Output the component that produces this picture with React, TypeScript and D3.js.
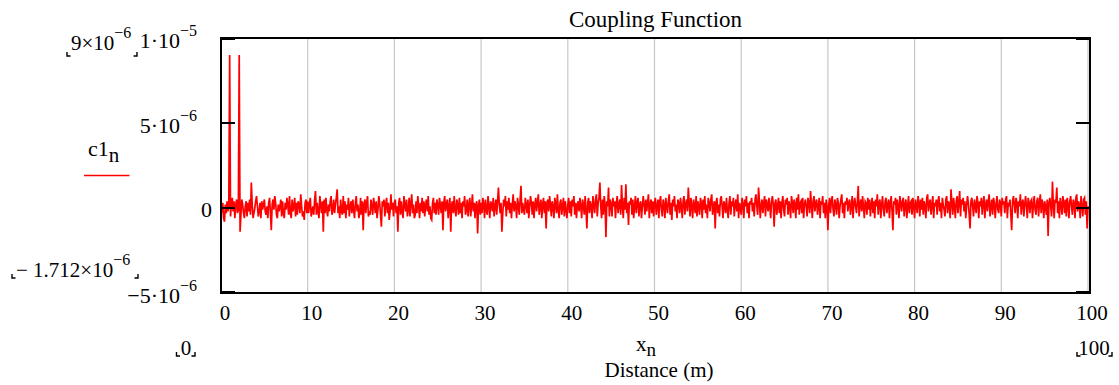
import React from 'react';
import * as d3 from 'd3';

// Sampling step of the distance grid (m)
const STEP = 0.1;
// Coupling function values c1_n, in units of 1e-7
const c1Values: number[] = [
  -4, -1, 3, -6, -8, 2, -3, 4, -2, 1, 90, -5, 3, 6, -2, 4, -6, 2, 5, -3, -1, 90, -14, -4, 5,
  2, -3, -6, 1, 4, -5, 3, -2, 5, -4, 15, 2, -6, -3, 0, 4, 7, 1, -5, -2, 3, -6, 4, -1, 2,
  5, -2, -4, 1, -6, 3, 6, -3, -13, 2, 5, -1, 7, 3, -4, -6, 2, -2, 1, 5, -5, 4, -3, -6, 3,
  -1, 6, 2, -4, 7, -3, -6, 5, -2, 1, 6, -5, 3, -4, 4, 2, -3, 8, 1, -5, -2, -7, 3, 5, -3,
  4, -3, 2, 6, -5, -2, 1, -4, 5, 10, -4, 3, -2, -6, 7, 2, -3, 4, -14, 5, -3, 6, -1, -5, 2,
  -2, 4, 7, -4, -1, 5, -3, 2, 6, 11, -3, 1, -6, 5, -2, -4, 7, -3, 4, -6, 2, -1, 6, -5, 1,
  4, -3, 5, -1, -6, 3, 7, -2, 2, -6, -3, 6, -4, 4, -13, 2, 5, -3, 3, 7, -5, -2, -4, 5, 1,
  -4, 6, 2, -3, 4, -6, -1, 7, 3, -4, -11, 4, 1, 5, -5, 2, 6, -3, 3, -7, -2, 8, -1, 3, -5,
  3, 5, -3, 1, -14, 3, 6, -4, 4, -2, -6, 7, 2, -2, 5, -5, -1, 6, -5, 3, 8, -3, 2, -6, -4,
  4, -3, 7, 1, -6, 3, -2, 6, -3, 4, -5, 2, 5, -2, 7, -4, 1, -6, -7, 3, 6, -3, 3, -4, 5,
  2, -4, 6, 2, -3, 4, -13, 3, 7, -2, 2, 5, -6, 1, 6, -14, 2, 4, -3, 7, -1, -5, 5, 2, -4,
  6, -3, 3, -6, 4, 1, 7, -4, -1, 5, -5, 2, 6, -5, 1, 8, -2, 3, -6, 2, 4, -15, 1, 5, -4,
  3, -3, 6, 2, -6, 5, -1, -4, 7, 1, -6, 4, 2, -2, 6, -5, 1, 5, -4, 4, 12, 2, -3, 3, -14,
  -3, 5, 1, 7, -5, 4, -1, 6, -3, 3, -6, 2, 8, -2, 4, 1, -6, 6, 2, -4, 5, 13, -3, 3, -1,
  -4, 6, 2, -3, 5, -6, 1, 7, 3, -4, 4, -6, 2, 6, -2, 3, 8, -4, 1, 5, -6, 2, 6, -3, 4,
  -12, 3, 5, -2, 7, 2, -5, 4, 1, -6, 6, 2, -3, 8, -1, -6, 3, 5, -4, 1, 6, -5, 4, -1, -6,
  2, 6, -3, 4, -5, 5, 1, 7, -4, 3, -6, 2, 4, -2, 6, 1, -6, 5, 2, -4, 7, -1, -12, 3, 6,
  -3, 4, 1, -6, 7, 2, -3, 5, 8, -5, 3, 6, 15, 1, -6, 5, -4, 7, 2, -17.12, 4, 1, 12, -5, 5,
  2, -5, 6, 1, 4, -6, 3, 7, -3, 2, 5, -4, 13.5, 1, -6, 6, -1, 14, -3, 3, -10, 4, 2, 6, -4,
  5, -6, 1, 7, -3, 3, 6, -5, 2, 4, -6, 1, 7, 2, -4, 5, -2, 3, 8, -6, 2, 5, -3, 4, -5,
  3, 6, -4, 1, 5, -6, 4, 7, -1, -5, 5, 2, -6, 6, 1, -3, 4, 8, -4, 3, -7, 5, 1, 7, -2,
  2, -6, 5, 3, -3, 6, 1, -6, 4, 7, -4, 2, 5, -2, 12, 3, -5, 6, 1, -6, 5, 2, -3, 7, -5,
  4, 1, -4, 6, 3, -6, 5, -1, 7, -3, 2, -6, 6, 3, -2, 5, 8, -4, 1, 4, -12, 3, 6, -3, 2,
  -5, 5, 7, 1, -6, 4, 2, -3, 6, -1, -6, 3, 7, -4, 4, 1, 6, -5, 2, 5, -2, 8, -6, 3, 1,
  -4, 6, 2, -6, 5, 1, 7, -3, 3, -6, 4, 2, 6, -2, 3, -5, 5, 8, 1, -4, 12, 4, -6, 2, 5,
  -3, 3, 7, -5, 5, 2, -2, 6, 1, -6, 4, 7, 2, -11, 3, 5, -4, 1, 6, -3, 4, -6, 3, 7, -1,
  -5, 5, 2, 6, -4, 4, 1, -6, 7, 3, -3, 5, 2, -6, 6, -1, 8, -4, 3, 4, -3, 6, -6, 2, 5,
  1, -5, 6, 3, -3, 10, 2, -6, 4, 7, -2, 3, 5, -4, 1, 6, -6, 4, 2, 7, -3, 3, -6, 5, 1,
  -13, 2, 6, -3, 4, 7, -1, -5, 5, 2, -4, 6, 3, -6, 1, 5, 8, -3, 3, -6, 4, 2, 6, -2, 3,
  5, -4, 1, 7, -6, 3, 6, 1, -3, 4, 13, -5, 2, 5, -2, 7, 1, -6, 4, 3, -4, 6, -1, 5, -5,
  2, 6, -3, 4, -6, 5, 1, 8, -4, 3, 5, -6, 2, 7, -1, -5, 4, 6, -3, 2, 5, -6, 3, 7, -2,
  -13, 4, 2, 6, -4, 5, 1, -6, 7, 3, -2, 4, 6, -5, 2, 5, -6, 1, 7, -3, 3, 4, -4, 6, 1,
  -6, 5, 2, -3, 7, 3, -5, 5, -1, 6, -4, 4, 1, -6, 6, 8, -2, 3, 5, -4, 2, 7, -6, 3, 1,
  5, -4, 4, 7, -2, 3, -6, 6, 2, -1, -5, 5, 7, -3, 4, 2, -6, 11, 3, -4, 6, 1, -6, 4, 7,
  -3, 3, 10, -5, 5, 2, 6, -2, 4, -6, 1, 7, 3, -4, -12, 4, 6, 1, -5, 5, 2, -3, 7, 3, -6,
  4, 1, 6, -4, 3, 7, -6, 2, 5, -2, 4, 8, -5, 1, 5, -4, 6, 3, -6, 2, 7, -1, -3, 5, 3,
  -5, 6, 2, 4, -3, 5, 7, -6, 3, 1, 5, -4, -13, 4, 7, 2, -3, 6, 3, -6, 4, 1, 8, -4, 3,
  5, -5, 2, 7, 1, -6, 6, 3, -3, 4, 5, -6, 2, 7, -1, -4, 4, 6, -5, 3, 8, -3, 5, 2, -6,
  4, 1, -4, 5, -16.5, 3, 6, 1, -5, 15.5, 2, -6, 5, 3, 12, -3, 4, -6, 6, 2, -4, 7, 3, -3, 5,
  -5, 6, 2, -6, 4, 7, 1, -4, 5, 3, -6, 6, 8, -2, 4, 2, -6, 7, 1, -5, 5, 6, -4, 4, -12,
  1,
];
const UNIT = 1e-7;

const xTicks = [0, 10, 20, 30, 40, 50, 60, 70, 80, 90, 100];
const yTicks = [-5e-6, 0, 5e-6, 1e-5];
const yTickMantissa = ['\u22125\u00b710', '0', '5\u00b710', '1\u00b710'];
const yTickExponent = ['\u22126', '', '\u22126', '\u22125'];

const title = 'Coupling Function';
const xLabelVar = 'x';
const xLabelSub = 'n';
const xAxisTitle = 'Distance (m)';
const legendVar = 'c1';
const legendSub = 'n';
const xMinLimit = '0';
const xMaxLimit = '100';
const yMaxLimit = ['9\u00d710', '\u22126'];
const yMinLimit = ['\u2212 1.712\u00d710', '\u22126'];

const FONT = '"Liberation Serif", "Times New Roman", serif';

function Corner({ x, y, side }: { x: number; y: number; side: 'l' | 'r' }) {
  const d = side === 'l'
    ? `M${x},${y - 4} L${x},${y} L${x + 3.5},${y}`
    : `M${x - 3.5},${y} L${x},${y} L${x},${y - 4}`;
  return <path d={d} fill="none" stroke="#000" strokeWidth={1.4} />;
}

export default function App() {
  const W = 1119, H = 385;
  const left = 221, right = 1090, top = 38, bottom = 293;
  const x = d3.scaleLinear().domain([0, 100]).range([left, 1088]);
  const y = d3.scaleLinear().domain([-5e-6, 1e-5]).range([bottom, top]);

  const pts: [number, number][] = c1Values.map((v, i) => [i * STEP, v * UNIT]);
  const line = d3.line<[number, number]>().x(d => x(d[0])).y(d => y(d[1]));
  const tickOff = (t: number) => (t === 1e-5 ? 1 : t === -5e-6 ? -1 : 0);

  return (
    <svg width={W} height={H} style={{ position: 'absolute', left: 0, top: 0, background: '#fff' }}
      fontFamily={FONT}>
      {/* title */}
      <text x={(left + right) / 2} y={27} textAnchor="middle" fontSize={23}>{title}</text>

      {/* vertical grid lines */}
      {xTicks.filter(t => t > 0).map(t => (
        <line key={t} x1={x(t)} x2={x(t)} y1={top} y2={bottom} stroke="#c8c8c8" strokeWidth={1.2} />
      ))}

      {/* data line */}
      <path d={line(pts) || ''} fill="none" stroke="#ff0000" strokeWidth={1.7} />

      {/* frame */}
      <rect x={left} y={top} width={right - left} height={bottom - top} fill="none" stroke="#000" strokeWidth={2} />

      {/* y tick marks, both sides */}
      {yTicks.map(t => (
        <g key={t}>
          <line x1={left} x2={left + 14} y1={y(t) + tickOff(t)} y2={y(t) + tickOff(t)} stroke="#000" strokeWidth={2} />
          <line x1={right - 14} x2={right} y1={y(t) + tickOff(t)} y2={y(t) + tickOff(t)} stroke="#000" strokeWidth={2} />
        </g>
      ))}

      {/* y tick labels */}
      {yTicks.map((t, i) => (
        yTickExponent[i] ? (
          <text key={t} x={197} y={y(t) + 10} textAnchor="end" fontSize={22}>
            <tspan>{yTickMantissa[i]}</tspan>
            <tspan dy={-12} fontSize={16}>{yTickExponent[i]}</tspan>
          </text>
        ) : (
          <text key={t} x={212} y={y(t) + 9} textAnchor="end" fontSize={22}>{yTickMantissa[i]}</text>
        )
      ))}

      {/* y limits */}
      <Corner x={67} y={56} side="l" />
      <text x={71} y={50} fontSize={21}>
        <tspan>{yMaxLimit[0]}</tspan>
        <tspan dy={-12} fontSize={16}>{yMaxLimit[1]}</tspan>
      </text>
      <Corner x={137} y={56} side="r" />

      <Corner x={12} y={278} side="l" />
      <text x={16} y={276.5} fontSize={21}>
        <tspan>{yMinLimit[0]}</tspan>
        <tspan dy={-12} fontSize={16}>{yMinLimit[1]}</tspan>
      </text>
      <Corner x={138} y={278} side="r" />

      {/* legend */}
      <text x={88} y={156} fontSize={22}>
        <tspan>{legendVar}</tspan>
        <tspan dy={6} fontSize={21}>{legendSub}</tspan>
      </text>
      <line x1={84} x2={129.5} y1={175.5} y2={175.5} stroke="#ff0000" strokeWidth={1.6} />

      {/* x tick labels */}
      {xTicks.map(t => (
        <text key={t} x={x(t) + 4} y={320} textAnchor="middle" fontSize={21}>{t}</text>
      ))}

      {/* x limits */}
      <Corner x={176.5} y={356} side="l" />
      <text x={186} y={355} textAnchor="middle" fontSize={21}>{xMinLimit}</text>
      <Corner x={195} y={356} side="r" />

      <Corner x={1077} y={356} side="l" />
      <text x={1094} y={355} textAnchor="middle" fontSize={21}>{xMaxLimit}</text>
      <Corner x={1112} y={356} side="r" />

      {/* x axis labels */}
      <text x={636} y={351} fontSize={21}>
        <tspan>{xLabelVar}</tspan>
        <tspan dy={5} fontSize={19}>{xLabelSub}</tspan>
      </text>
      <text x={659} y={377} textAnchor="middle" fontSize={21}>{xAxisTitle}</text>
    </svg>
  );
}
